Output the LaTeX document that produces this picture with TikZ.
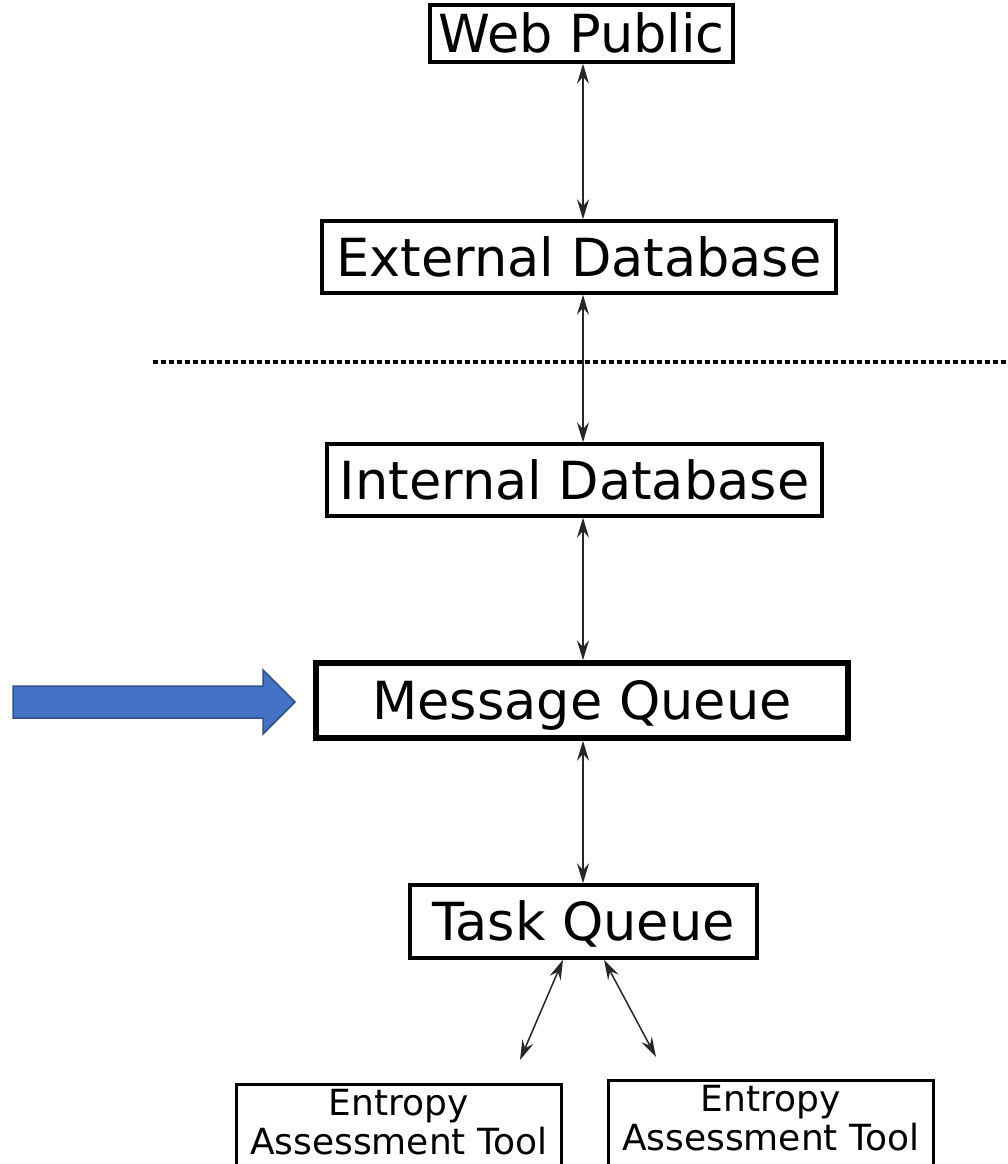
\documentclass[tikz,border=0pt]{standalone}
\usepackage{fontspec}
\setmainfont{DejaVu Sans}
\usetikzlibrary{arrows.meta}
\definecolor{blueA}{HTML}{4472C4}
\definecolor{blueB}{HTML}{2F528F}
\begin{document}
\begin{tikzpicture}[x=1pt,y=-1pt,
  box/.style={draw, line width=3.5pt, inner sep=0pt, fill=white,
    font=\fontsize{52.5}{60}\selectfont, text height=38.3pt, text depth=0pt},
  thickbox/.style={box, line width=5.5pt},
  toolbox/.style={draw, line width=2.5pt, inner sep=0pt, minimum width=325pt, minimum height=150pt, anchor=north west},
  tooltext/.style={inner sep=0pt, align=center, anchor=north, font=\fontsize{36}{39}\selectfont},
  tip/.tip={Stealth[length=20pt,width=12pt,inset=7pt]},
  dbl/.style={tip-tip, line width=1.5pt, draw=black!85},
  sep/.style={line width=4pt, dash pattern=on 5pt off 3pt}
]
\useasboundingbox (0,0) rectangle (1008,1164);

\node[box, minimum width=303pt, minimum height=57pt] (wp) at (581.5,33.5) {Web Public};
\node[box, minimum width=514pt, minimum height=72pt] (ext) at (579,257) {External Database};
\node[box, minimum width=495pt, minimum height=72pt] (int) at (574.5,480) {Internal Database};
\node[thickbox, minimum width=532pt, minimum height=75pt] (mq) at (582,700.5) {Message Queue};
\node[box, minimum width=347pt, minimum height=73pt] (tq) at (583.5,921.5) {Task Queue};

\node[toolbox] (e1) at (235,1083) {};
\node[toolbox] (e2) at (607,1079) {};
\node[tooltext] (e1t) at ([yshift=-6pt]e1.north) {Entropy\\Assessment Tool};
\node[tooltext] (e2t) at ([yshift=-6pt]e2.north) {Entropy\\Assessment Tool};

\draw[sep] (153,362) -- (1008,362);

\coordinate (ax) at (583,0);
\coordinate (tl) at (563,0);
\coordinate (tr) at (604,0);
\coordinate (l1) at (520,1060);
\coordinate (r1) at (656,1057);

\draw[dbl] (wp.south -| ax) -- (ext.north -| ax);
\draw[dbl] (ext.south -| ax) -- (int.north -| ax);
\draw[dbl] (int.south -| ax) -- (mq.north -| ax);
\draw[dbl] (mq.south -| ax) -- (tq.north -| ax);
\draw[dbl] (tq.south -| tl) -- (l1);
\draw[dbl] (tq.south -| tr) -- (r1);

\draw[fill=blueA, draw=blueB, line width=1.5pt, line join=miter]
  (13,686) -- (263,686) -- (263,670) -- (295,702) -- (263,734) -- (263,718) -- (13,718) -- cycle;
\end{tikzpicture}
\end{document}
